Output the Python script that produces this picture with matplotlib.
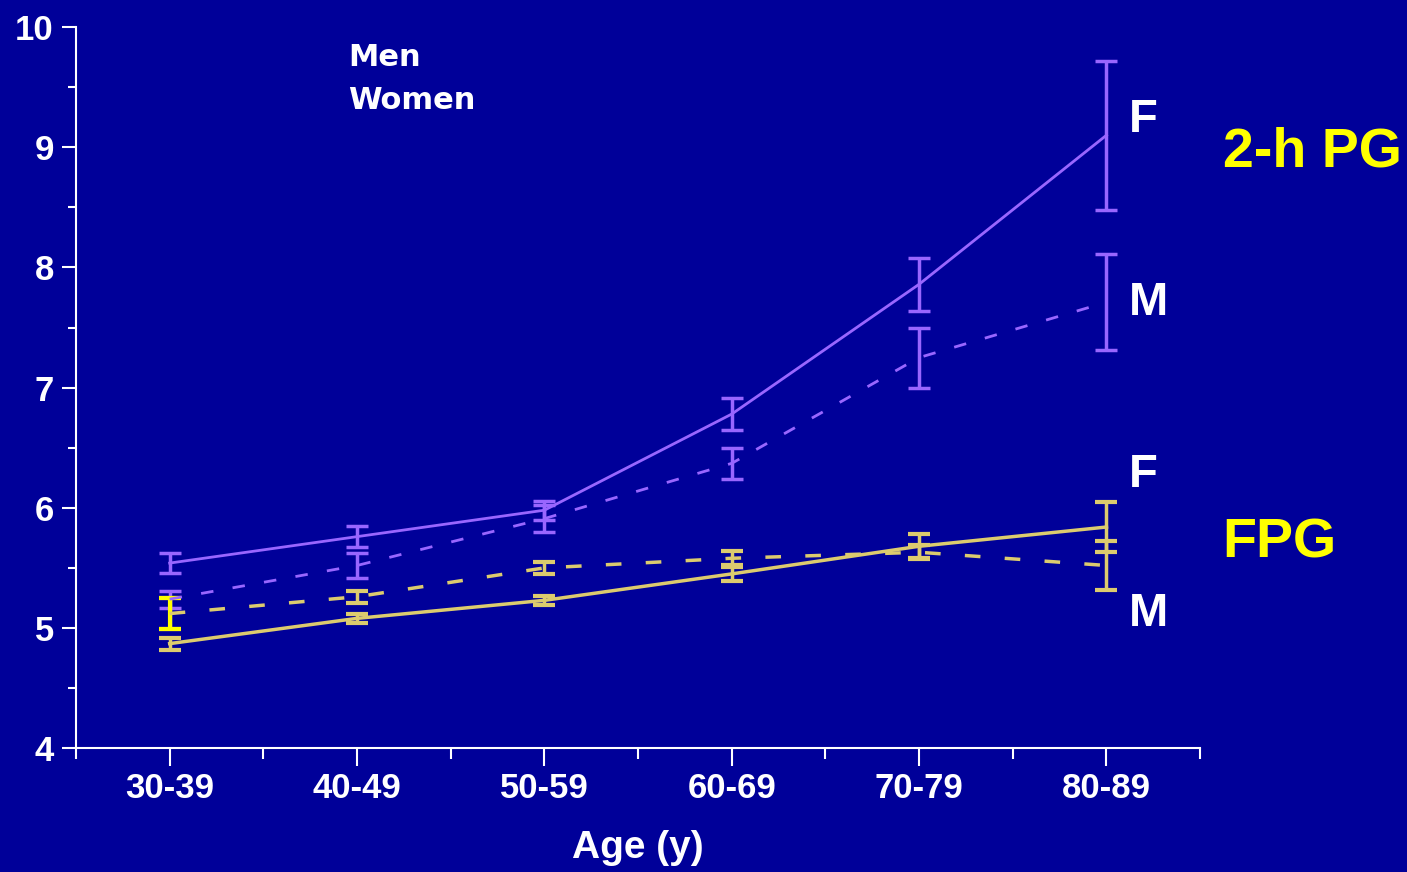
import matplotlib
matplotlib.use("Agg")
import matplotlib.pyplot as plt
import numpy as np

# age groups
ages = ["30-39", "40-49", "50-59", "60-69", "70-79", "80-89"]

# 2-h plasma glucose (mmol/l)
pg2h_women = [5.54, 5.76, 5.98, 6.78, 7.86, 9.10]
pg2h_women_err = [0.08, 0.09, 0.08, 0.13, 0.22, 0.62]
pg2h_men = [5.24, 5.52, 5.91, 6.37, 7.25, 7.71]
pg2h_men_err = [0.07, 0.10, 0.11, 0.13, 0.25, 0.40]

# fasting plasma glucose (mmol/l)
fpg_women = [4.87, 5.08, 5.23, 5.45, 5.68, 5.84]
fpg_women_err = [0.05, 0.04, 0.04, 0.06, 0.10, 0.21]
fpg_men = [5.12, 5.26, 5.50, 5.58, 5.63, 5.52]
fpg_men_err = [0.13, 0.05, 0.05, 0.06, 0.06, 0.20]

bg = "#000099"
purple = "#9966ff"
khaki = "#dccb6e"
yellow = "#ffff00"

plt.rcParams['font.family'] = ['Liberation Sans', 'DejaVu Sans']

fig = plt.figure(figsize=(14.07, 8.72), dpi=100, facecolor=bg)
ax = fig.add_axes([0.054, 0.142, 0.799, 0.827], facecolor=bg)

x = np.arange(len(ages))
dash = (0, (4.5, 7))

ax.errorbar(x, pg2h_women, yerr=pg2h_women_err, color=purple, lw=2,
            capsize=8, capthick=2.5, elinewidth=2.5)
ax.errorbar(x, pg2h_men, yerr=pg2h_men_err, color=purple, lw=2, ls=dash,
            capsize=8, capthick=2.5, elinewidth=2.5)
ax.errorbar(x, fpg_women, yerr=fpg_women_err, color=khaki, lw=2.5,
            capsize=8, capthick=3, elinewidth=2.5)
ax.errorbar(x, fpg_men, yerr=fpg_men_err, color=khaki, lw=2.5, ls=dash,
            capsize=8, capthick=3, elinewidth=2.5)
# first men FPG bar is bright yellow in the original
ax.errorbar(x[:1], fpg_men[:1], yerr=fpg_men_err[:1], color=yellow, lw=0,
            capsize=8, capthick=3, elinewidth=3)

ax.set_xlim(-0.5, 5.5)
ax.set_ylim(4, 10)
ax.set_xticks(x)
ax.set_xticklabels(ages)
ax.set_xticks(np.arange(-0.5, 5.6, 1.0), minor=True)
ax.set_yticks(np.arange(4, 11, 1))
ax.set_yticks(np.arange(4, 10.1, 0.5), minor=True)

for s in ["top", "right"]:
    ax.spines[s].set_visible(False)
for s in ["left", "bottom"]:
    ax.spines[s].set_color("white")
    ax.spines[s].set_linewidth(1.5)

ax.tick_params(axis="both", colors="white", width=1.5)
ax.tick_params(axis="x", which="major", length=13, pad=4, labelsize=25)
ax.tick_params(axis="x", which="minor", length=8, width=1.5, color="white")
ax.tick_params(axis="y", which="major", length=10, pad=6, labelsize=25)
ax.tick_params(axis="y", which="minor", length=6, width=1.5, color="white")
for lab in ax.get_xticklabels():
    lab.set_fontweight("bold")
for lab in ax.get_yticklabels():
    lab.set_fontweight("bold")

ax.set_xlabel("Age (y)", color="white", fontsize=28, fontweight="bold", labelpad=18)

# legend text
ax.text(0.242, 0.978, "Men", transform=ax.transAxes, color="white",
        fontsize=22, fontweight="bold", va="top", family="DejaVu Sans")
ax.text(0.242, 0.918, "Women", transform=ax.transAxes, color="white",
        fontsize=22, fontweight="bold", va="top", family="DejaVu Sans")

# series labels
ax.text(5.12, 9.23, "F", color="white", fontsize=34, fontweight="bold", va="center")
ax.text(5.12, 7.70, "M", color="white", fontsize=34, fontweight="bold", va="center")
ax.text(5.12, 6.27, "F", color="white", fontsize=34, fontweight="bold", va="center")
ax.text(5.12, 5.12, "M", color="white", fontsize=34, fontweight="bold", va="center")
ax.text(5.62, 8.96, "2-h PG", color=yellow, fontsize=40, fontweight="bold", va="center")
ax.text(5.62, 5.70, "FPG", color=yellow, fontsize=40, fontweight="bold", va="center")

fig.savefig("out.png", dpi=100, facecolor=bg)
